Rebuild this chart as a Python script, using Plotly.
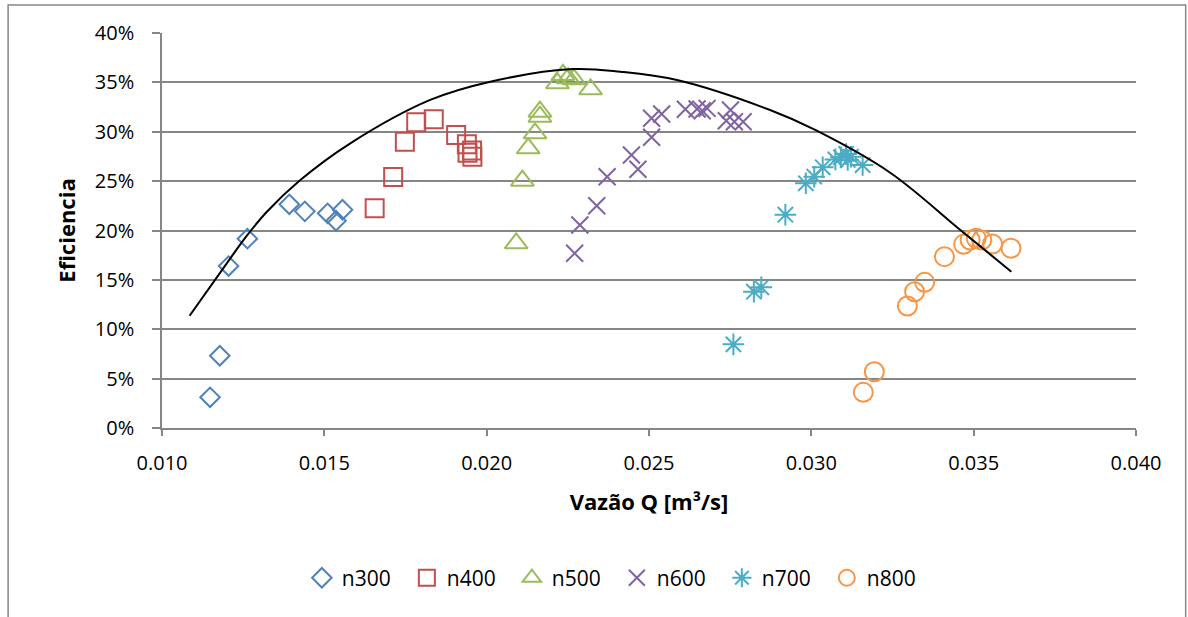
import plotly.graph_objects as go

# ---- data ----
n300_q = [0.01148, 0.01178, 0.01205, 0.01263, 0.01392, 0.01440, 0.01510, 0.01536, 0.01556]
n300_e = [0.0311, 0.0732, 0.1640, 0.1917, 0.2265, 0.2194, 0.2174, 0.2099, 0.2210]

n400_q = [0.01655, 0.01712, 0.01748, 0.01783, 0.01837, 0.01906, 0.01939, 0.01941, 0.01956, 0.01955]
n400_e = [0.2225, 0.2542, 0.2899, 0.3096, 0.3126, 0.2967, 0.2873, 0.2788, 0.2747, 0.2810]

n500_q = [0.02091, 0.02110, 0.02128, 0.02149, 0.02164, 0.02164, 0.02218, 0.02235, 0.02251, 0.02269, 0.02320]
n500_e = [0.1870, 0.2504, 0.2832, 0.2984, 0.3152, 0.3203, 0.3490, 0.3575, 0.3541, 0.3531, 0.3430]

n600_q = [0.02271, 0.02287, 0.02339, 0.02371, 0.02446, 0.02466, 0.02508, 0.02508, 0.02539,
          0.02612, 0.02648, 0.02679, 0.02664, 0.02751, 0.02738, 0.02763, 0.02790]
n600_e = [0.1769, 0.2056, 0.2250, 0.2545, 0.2765, 0.2620, 0.2944, 0.3136, 0.3180,
          0.3227, 0.3230, 0.3237, 0.3213, 0.3220, 0.3112, 0.3102, 0.3102]

n700_q = [0.02760, 0.02823, 0.02846, 0.02920, 0.02983, 0.03009, 0.03035, 0.03074, 0.03091,
          0.03107, 0.03112, 0.03122, 0.03158]
n700_e = [0.0847, 0.1380, 0.1425, 0.2160, 0.2478, 0.2545, 0.2640, 0.2720, 0.2741,
          0.2775, 0.2714, 0.2747, 0.2663]

n800_q = [0.03160, 0.03194, 0.03296, 0.03318, 0.03349, 0.03410, 0.03469, 0.03489, 0.03508,
          0.03525, 0.03558, 0.03615]
n800_e = [0.0361, 0.0570, 0.1235, 0.1380, 0.1475, 0.1735, 0.1860, 0.1904, 0.1921,
          0.1904, 0.1863, 0.1820]

curve_q = [0.01085, 0.01200, 0.01262, 0.01323, 0.01426, 0.01580, 0.01826, 0.02011, 0.02267, 0.02412,
           0.02586, 0.02873, 0.03012, 0.03243, 0.03459, 0.03616]
curve_e = [0.1137, 0.1670, 0.1950, 0.2190, 0.2511, 0.2883, 0.3322, 0.3507, 0.3635, 0.3608,
           0.3524, 0.3220, 0.3018, 0.2585, 0.2005, 0.1583]

series = [
    ("n300", n300_q, n300_e, "diamond-open", "#4F81BD", 15),
    ("n400", n400_q, n400_e, "square-open", "#C0504D", 18),
    ("n500", n500_q, n500_e, "triangle-up-open", "#9BBB59", 20),
    ("n600", n600_q, n600_e, "x-thin-open", "#8064A2", 17),
    ("n700", n700_q, n700_e, "asterisk-open", "#4BACC6", 18),
    ("n800", n800_q, n800_e, "circle-open", "#F79646", 19),
]

FONT = "'Open Sans', Lato, sans-serif"

fig = go.Figure()
for name, q, e, sym, col, sz in series:
    fig.add_trace(go.Scatter(
        x=q, y=e, mode="markers", name=name,
        marker=dict(symbol=sym, size=sz, color=col, line=dict(color=col, width=2)),
    ))

fig.add_trace(go.Scatter(
    x=curve_q, y=curve_e, mode="lines", showlegend=False,
    line=dict(color="black", width=2, shape="spline", smoothing=1.0),
))

fig.update_layout(
    width=1188, height=617,
    margin=dict(l=162, r=52, t=33, b=189),
    paper_bgcolor="white", plot_bgcolor="white",
    font=dict(family=FONT, size=20, color="black"),
    showlegend=True,
    legend=dict(orientation="h", x=0.467, xanchor="center", y=-0.38, yanchor="middle",
                font=dict(size=21), itemwidth=30, tracegroupgap=0, traceorder="normal",
                entrywidth=60, entrywidthmode="pixels"),
    shapes=[dict(type="rect", xref="paper", yref="paper",
                 x0=-0.158, x1=1.051, y0=-0.6, y1=1.071,
                 line=dict(color="#888888", width=1.5), layer="below")],
)

fig.update_xaxes(
    range=[0.010, 0.040], dtick=0.005, tick0=0.010, tickformat=".3f",
    showgrid=False, zeroline=False,
    showline=True, linecolor="#868686", linewidth=1.5,
    ticks="outside", ticklen=6, tickcolor="#868686", tickwidth=1.5,
    ticklabelstandoff=10,
    title=dict(text="<b>Vazão Q [m³/s]</b>", font=dict(size=22), standoff=20),
)
fig.update_yaxes(
    range=[0, 0.40], dtick=0.05, tickformat=".0%",
    showgrid=True, gridcolor="#868686", gridwidth=1.5, zeroline=False,
    showline=True, linecolor="#868686", linewidth=1.5,
    ticks="outside", ticklen=8, tickcolor="#868686", tickwidth=1.5,
    ticklabelstandoff=14,
    title=dict(text="<b>Eficiencia</b>", font=dict(size=22), standoff=13),
)

fig.write_html("out.html", config={"displayModeBar": False},
               post_script="document.body.style.margin='0px';")
